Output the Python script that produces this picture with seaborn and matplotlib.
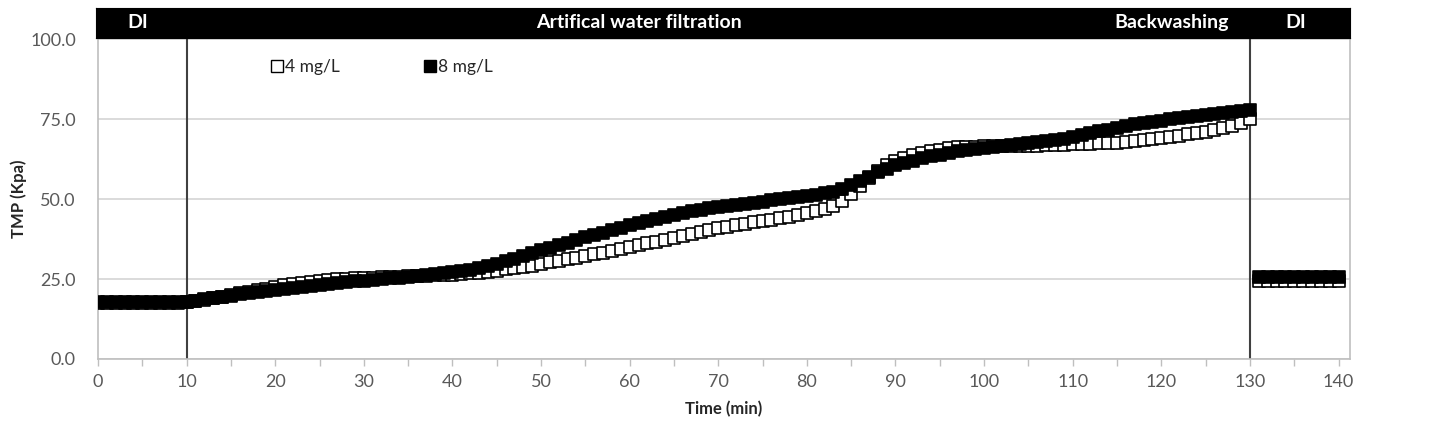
import matplotlib
matplotlib.use('Agg')
import matplotlib.pyplot as plt
import numpy as np
import seaborn as sns
import pandas as pd
from matplotlib.lines import Line2D

# TMP readings (Kpa), one per minute during filtration, then DI after backwash
time_filt = list(range(0, 131))
tmp_4 = [17.6, 17.6, 17.6, 17.6, 17.6, 17.6, 17.6, 17.6, 17.6, 17.6,
         17.7, 18.0, 18.5, 19.0, 19.5, 20.0, 20.5, 21.0, 21.5, 22.0,
         22.5, 23.0, 23.4, 23.8, 24.1, 24.4, 24.7, 24.9, 25.1, 25.2,
         25.3, 25.4, 25.5, 25.6, 25.7, 25.8, 25.9, 26.0, 26.1, 26.2,
         26.4, 26.6, 26.8, 27.0, 27.3, 27.6, 28.0, 28.4, 28.8, 29.2,
         29.7, 30.2, 30.7, 31.2, 31.7, 32.2, 32.7, 33.2, 33.7, 34.3,
         34.9, 35.5, 36.1, 36.7, 37.3, 37.9, 38.5, 39.1, 39.7, 40.3,
         40.9, 41.4, 41.9, 42.3, 42.7, 43.1, 43.5, 44.0, 44.5, 45.0,
         45.6, 46.3, 47.0, 47.9, 49.3, 51.5, 54.0, 56.5, 58.8, 60.5,
         61.8, 62.8, 63.6, 64.3, 64.9, 65.4, 65.8, 66.1, 66.3, 66.4,
         66.5, 66.5, 66.5, 66.5, 66.5, 66.6, 66.7, 66.8, 66.9, 67.0,
         67.1, 67.2, 67.3, 67.4, 67.5, 67.6, 67.8, 68.0, 68.3, 68.6,
         69.0, 69.4, 69.8, 70.2, 70.6, 71.0, 71.5, 72.1, 72.8, 73.8,
         75.0]
tmp_8 = [17.8, 17.8, 17.8, 17.8, 17.8, 17.8, 17.8, 17.8, 17.8, 17.8,
         17.9, 18.2, 18.6, 19.0, 19.4, 19.8, 20.2, 20.6, 21.0, 21.3,
         21.6, 22.0, 22.3, 22.6, 22.9, 23.2, 23.5, 23.8, 24.0, 24.3,
         24.5, 24.8, 25.0, 25.2, 25.4, 25.6, 25.9, 26.2, 26.5, 26.8,
         27.1, 27.5, 27.9, 28.4, 29.0, 29.7, 30.5, 31.4, 32.3, 33.2,
         34.0, 34.8, 35.6, 36.4, 37.2, 38.0, 38.8, 39.5, 40.3, 41.0,
         41.8, 42.5, 43.2, 43.9, 44.5, 45.1, 45.7, 46.2, 46.7, 47.1,
         47.5, 47.8, 48.1, 48.5, 48.9, 49.2, 49.6, 49.9, 50.3, 50.6,
         51.0, 51.4, 51.8, 52.3, 53.2, 54.3, 55.6, 57.0, 58.3, 59.5,
         60.5, 61.3, 62.0, 62.7, 63.3, 63.9, 64.4, 64.9, 65.3, 65.7,
         66.0, 66.3, 66.6, 66.9, 67.2, 67.5, 67.8, 68.1, 68.5, 68.9,
         69.4, 69.9, 70.5, 71.1, 71.7, 72.3, 72.8, 73.3, 73.7, 74.1,
         74.5, 74.9, 75.3, 75.7, 76.0, 76.3, 76.6, 76.9, 77.2, 77.5,
         77.8]
time_di = [131, 132, 133, 134, 135, 136, 137, 138, 139, 140]
tmp_4_di = [24.3, 24.3, 24.3, 24.3, 24.3, 24.3, 24.3, 24.3, 24.3, 24.3]
tmp_8_di = [25.6, 25.6, 25.6, 25.6, 25.6, 25.6, 25.6, 25.6, 25.6, 25.6]

phase_labels = ['DI', 'Artifical water filtration', 'Backwashing', 'DI']
phase_x = [4.7, 61.2, 121.2, 135.2]

df = pd.DataFrame({
    'time': time_filt + time_di + time_filt + time_di,
    'tmp': tmp_4 + tmp_4_di + tmp_8 + tmp_8_di,
    'dose': ['4 mg/L'] * (len(time_filt) + len(time_di)) + ['8 mg/L'] * (len(time_filt) + len(time_di)),
})

sns.set_style('white')
plt.rcParams['font.family'] = ['Lato', 'DejaVu Sans']

fig = plt.figure(figsize=(14.37, 4.25), dpi=100)
ax = fig.add_axes([0.0682, 0.1553, 0.8713, 0.7529])

ax.set_axisbelow(True)
ax.grid(axis='y', color='#d4d4d4', linewidth=1.2)

d4 = df[df['dose'] == '4 mg/L']
d8 = df[df['dose'] == '8 mg/L']
sns.scatterplot(data=d4, x='time', y='tmp', marker='s', s=85, color='white',
                edgecolor='black', linewidth=1.2, ax=ax, zorder=3, legend=False)
sns.scatterplot(data=d8, x='time', y='tmp', marker='s', s=85, color='black',
                edgecolor='black', linewidth=1.2, ax=ax, zorder=4, legend=False)

ax.axvline(10, color='#404040', linewidth=1.5, zorder=2)
ax.axvline(130, color='#404040', linewidth=1.5, zorder=2)

ax.set_xlim(0, 141.3)
ax.set_ylim(0, 100)
ax.set_xticks(np.arange(0, 141, 10))
ax.set_xticks(np.arange(0, 141, 5), minor=True)
ax.set_yticks([0, 25, 50, 75, 100])
ax.set_yticklabels(['0.0', '25.0', '50.0', '75.0', '100.0'])
ax.tick_params(axis='x', which='both', direction='out', length=5, width=1,
               color='#bfbfbf', labelsize=13, labelcolor='#595959', pad=6, bottom=True)
ax.tick_params(axis='y', length=0, labelsize=13, labelcolor='#595959', pad=16)

for side in ['left', 'bottom', 'right']:
    ax.spines[side].set_visible(True)
    ax.spines[side].set_color('#bfbfbf')
    ax.spines[side].set_linewidth(1.2)
ax.spines['top'].set_visible(False)

ax.set_xlabel('Time (min)', fontsize=12, fontweight='bold')
ax.xaxis.set_label_coords(0.5, -0.13)
ax.set_ylabel('TMP (Kpa)', fontsize=12, fontweight='bold')
ax.yaxis.set_label_coords(-0.057, 0.5)

handles = [Line2D([], [], marker='s', linestyle='', markersize=8.5, markerfacecolor='white',
                  markeredgecolor='black', markeredgewidth=1.0),
           Line2D([], [], marker='s', linestyle='', markersize=8.5, markerfacecolor='black',
                  markeredgecolor='black')]
ax.legend(handles, ['4 mg/L', '8 mg/L'], ncol=2, frameon=False, loc='upper left',
          bbox_to_anchor=(0.131, 0.965), borderpad=0, handlelength=0.7, handletextpad=0.15,
          columnspacing=4.8, prop={'size': 12.5})

# black phase bar on top
bar = fig.add_axes([0.0668, 0.9106, 0.8727, 0.0706])
bar.set_facecolor('black')
bar.set_xlim(0, 141.3)
bar.set_ylim(0, 1)
bar.set_xticks([])
bar.set_yticks([])
for s in bar.spines.values():
    s.set_color('black')
for lab, xp in zip(phase_labels, phase_x):
    bar.text(xp, 0.5, lab, color='white', fontsize=14, fontweight='bold',
             ha='center', va='center')

fig.savefig('out.png', dpi=100)
